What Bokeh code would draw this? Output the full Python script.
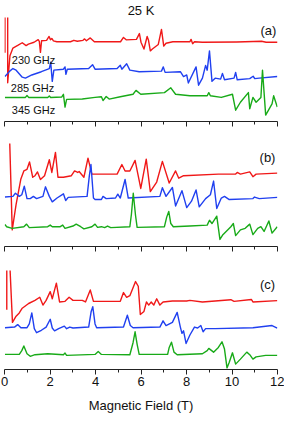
from bokeh.plotting import figure
from bokeh.layouts import column
from bokeh.models import Range1d, FixedTicker, Label
from bokeh.embed import file_html
from bokeh.resources import INLINE

# ---------------- data ----------------
field_ticks = [0, 2, 4, 6, 8, 10, 12]
minor_field_ticks = [1, 3, 5, 7, 9, 11]
freq_labels = ["230 GHz", "285 GHz", "345 GHz"]
panel_names = ["(a)", "(b)", "(c)"]
title_text = "25 K"
x_label = "Magnetic Field (T)"

# panel (a)
a_red_B = [0.02, 0.02, 0.14, 0.14, 0.24, 0.37, 0.6, 0.78, 0.95, 1.05, 1.3, 1.48, 1.53, 1.58, 1.63, 1.85, 1.96, 2.02, 2.08, 2.15, 2.3, 2.9, 3.05, 3.2, 3.45, 3.52, 3.6, 3.77, 3.95, 5.1, 5.23, 5.35, 5.8, 5.93, 6.0, 6.13, 6.27, 6.33, 6.41, 6.5, 6.76, 6.9, 7.0, 7.1, 7.4, 8.15, 8.2, 8.27, 8.35, 8.7, 10.2, 11.3, 11.5, 12.0]
a_red_S = [-11, 40, 40, -42, -14, -6, -3, -0.5, -3.5, -2, 0, 2.7, 1, -10.5, 1.5, 2, 6, 2.5, 4, 1.5, 0.5, 0.5, 2, 1, 2, 3.5, 1.5, 4.5, 0.5, 0.5, 5, 2.5, 3, 9, 0, -7, 6, 2, -9, -7, -2.3, 13.3, -4, -1, 0.5, 0.5, 3, -1.5, 0.5, 0, 0.3, 1, 0, 0]
a_blue_B = [0.02, 0.23, 0.37, 0.51, 0.78, 0.92, 1.2, 1.62, 1.97, 2.03, 2.1, 2.17, 2.59, 2.66, 2.7, 2.76, 3.7, 3.87, 3.98, 4.95, 5.09, 5.16, 5.37, 5.51, 5.92, 6.9, 6.98, 7.06, 7.73, 7.87, 8.01, 8.08, 8.42, 8.53, 8.7, 8.84, 8.91, 9.01, 9.12, 9.26, 9.5, 9.58, 9.67, 10.09, 10.16, 10.23, 10.78, 10.93, 11.0, 11.2, 11.99]
a_blue_S = [-6.3, -0.7, 2, 0.3, -7, -8, -4.7, -1.3, 2, 8.7, -11.3, 0.3, 1.3, 3.7, -4, 1.3, 2, 6, 1.3, 2, 5.3, 1.3, 7, 0.3, -1.3, -0.7, 3.7, -2, -1.3, -6.3, -4.7, -13, 3.7, -15.3, -8, 5.3, 0.3, 20.3, -11.3, -8, -9, -3, -9.7, -8, -2, -9.7, -8.5, -6, -8.5, -8, -6.3]
a_green_B = [0.02, 0.92, 0.99, 1.06, 1.9, 1.97, 2.03, 2.52, 2.59, 2.66, 2.73, 3.42, 3.98, 4.26, 4.33, 4.47, 4.6, 5.09, 5.65, 5.78, 5.99, 7.03, 7.31, 7.52, 8.15, 8.91, 8.98, 9.05, 9.53, 10.02, 10.16, 10.37, 10.72, 10.78, 10.92, 11.06, 11.27, 11.34, 11.48, 11.76, 11.83, 11.99]
a_green_S = [0, 0, 2, 0, 0, 1.5, 0, 0.5, 3.3, -10, -2, -1.7, 0, 0.7, -3.3, 1, -1.7, 0.7, 3.3, 7.3, 3.3, 5, 10, 3.3, 1.7, 1.7, 5, 1.7, 0, 3.3, -13.3, -5, 5, -11.7, 0, -5, 0, 28.3, -18.3, -6.7, 1.7, -10]

# panel (b)
b_red_B = [0.23, 0.34, 0.51, 0.72, 0.85, 0.99, 1.1, 1.24, 1.34, 1.45, 1.58, 1.76, 1.97, 2.08, 2.24, 2.35, 2.59, 2.94, 3.08, 3.22, 3.28, 3.49, 3.67, 3.84, 4.95, 5.16, 5.3, 5.51, 5.74, 5.99, 6.23, 6.41, 6.69, 6.94, 7.24, 7.52, 7.66, 7.87, 9.4, 10.16, 10.23, 10.37, 10.78, 10.92, 11.06, 11.99]
b_red_S = [32, -59.3, -32.7, -6, 2.3, 4, 11.7, -4.3, -2.7, 1.3, -6.7, -2.7, 14, 0.7, 21.7, -4.3, -4.3, -2.7, 2.3, 0.7, 1.7, -4.3, 15.7, -1, -1, 9, 2.3, 2.3, 13.3, -16, 14.7, -19.3, -9.3, 12.3, -10.3, 2.3, -5.3, -2.7, -1, -1, 0.7, -1, 1.3, -3.7, -1, 0]
b_blue_B = [0.02, 0.37, 0.48, 0.65, 0.76, 0.87, 0.99, 1.13, 1.27, 1.41, 1.69, 1.8, 1.97, 2.1, 2.31, 2.59, 2.69, 2.8, 3.63, 3.73, 3.8, 3.91, 3.98, 4.26, 4.33, 4.47, 4.88, 4.98, 5.09, 5.3, 5.44, 6.83, 6.94, 7.1, 7.38, 7.52, 7.8, 8.01, 8.22, 8.42, 8.56, 8.84, 9.05, 9.19, 9.33, 9.53, 9.67, 9.88, 10.92, 10.99, 11.2, 11.99]
b_blue_S = [0.3, 1, 4.3, 1, 2.7, 11.7, -1.3, -1.3, 1, -1.3, 1, 11, 1, -4.7, -0.7, 3.7, -3.3, 0, 1, 22.7, 34.3, -0.7, -2.3, -2.3, 1, -1.3, -0.7, 3.3, -0.7, 18.7, -0.7, 1, 10, 1, 10.3, -9, 7, -10.7, -4, 7.7, -10, -1.3, 2.7, 17, -11.7, -0.7, 1, -2.3, -1.3, 0.3, -1.3, 0]
b_green_B = [0.02, 0.09, 0.34, 0.85, 0.97, 1.09, 1.9, 2.01, 2.1, 2.45, 2.56, 2.66, 3.01, 3.15, 3.35, 3.49, 3.84, 3.98, 4.09, 4.26, 4.4, 4.53, 4.67, 5.51, 5.58, 5.66, 5.76, 5.83, 7.03, 7.13, 7.22, 7.31, 7.42, 8.15, 8.91, 9.01, 9.12, 9.33, 9.47, 9.6, 9.95, 10.06, 10.16, 10.37, 10.58, 10.78, 10.92, 11.13, 11.27, 11.41, 11.62, 11.76, 11.99]
b_green_S = [2.3, 0, -1.7, 0, 2.7, -1, 0, 1.7, 0, 0, 1.7, -1.7, 0.7, 2.7, 0, -2.3, 0, 2.7, -0.7, 0, -1, 0.7, -1, 0, 13.3, 35, 11.7, -0.7, 0, 10, 16, 3.3, 0, 0.7, 1.7, 6.7, 3.3, 11, -13.3, -8.3, 0, 3.3, -9.3, -3.3, -1.7, 2.7, -8.3, -1.7, 0, -5, 6, -6.7, 0]

# panel (c)
c_red_B = [0.1, 0.1, 0.24, 0.35, 0.51, 0.65, 0.78, 1.06, 1.34, 1.55, 1.69, 1.83, 2.01, 2.1, 2.28, 2.42, 2.66, 2.84, 3.01, 3.42, 3.56, 3.77, 3.91, 5.09, 5.23, 5.37, 5.51, 5.76, 5.88, 5.97, 6.13, 6.24, 6.34, 6.45, 6.56, 6.69, 6.83, 6.97, 7.38, 8.01, 8.15, 8.7, 9.95, 10.09, 10.85, 10.92, 11.99]
c_red_S = [-9, 36, 36, -22.3, -15.7, -12.3, -7.3, -2.3, 1, 4.3, -4, 1, 10.3, 2.7, 19.3, -0.7, 0, 4.3, 1, 1, -0.7, 12, 0, 0, 9.3, 4.3, 6, 21, 16, -14, -10.7, -0.7, -4, -0.7, -4, 2.7, -4, -0.7, 0.3, 0.3, 1, -0.7, 1.7, 0, 2, -0.7, 0.7]
c_blue_B = [0.02, 0.44, 0.58, 0.72, 0.99, 1.09, 1.2, 1.31, 1.41, 1.62, 1.83, 2.01, 2.1, 2.2, 2.38, 2.63, 2.73, 2.87, 3.01, 3.7, 3.81, 3.88, 3.98, 4.05, 5.23, 5.4, 5.53, 5.65, 6.83, 6.97, 7.1, 7.38, 7.59, 7.73, 7.8, 7.87, 7.98, 8.15, 8.35, 8.49, 8.63, 8.73, 8.84, 9.26, 10.92, 11.76, 11.99]
c_blue_S = [0, 0.7, 3.3, 0, 0, 4, 15.7, -1, -5.3, -2.7, 0.7, 9, -0.3, -3.3, -1, 1.7, -1, 0.7, -0.3, 0.7, 17.3, 22.3, 4, 0, 0.7, 13.3, 2.3, 0, 0.7, 7.3, 2.3, 5.7, 16.3, 0.7, -6, -3.3, -16.7, -7.7, 0.7, -0.3, 2.3, -4.3, -1, -1, 0, 2.3, -0.3]
c_green_B = [0.02, 0.65, 0.76, 0.85, 0.99, 1.13, 1.34, 1.9, 2.59, 2.66, 2.73, 3.98, 4.12, 4.26, 5.51, 5.65, 5.74, 5.83, 5.92, 7.17, 7.24, 7.34, 7.45, 7.59, 8.7, 8.91, 8.98, 9.19, 9.4, 9.56, 9.67, 9.78, 9.88, 10.02, 10.16, 10.37, 10.65, 10.78, 10.92, 11.06, 11.48, 11.99]
c_green_S = [0.3, 0.3, 4.3, 9.3, 1, -1.7, 0, 1, 0, 1.7, -0.7, 0.3, 3.3, 0.3, 0, 12.7, 24.3, 11, 0.3, 0.3, 7.7, 13.3, 2.7, 0, 1, 4.3, 6.7, 2.7, 7.7, 13.7, 6, -14, -8, 2, -10, -4.7, 2.7, 0, -4.7, -2.3, -0.7, -0.7]

# ---------------- styling ----------------
RED = "#f01818"
BLUE = "#2040f0"
GREEN = "#18aa18"
FONT = "Liberation Sans"
W = 284

panels = [
    # (traces, baselines(ref px), y-range(ref px), height, border top, border bottom)
    (((a_red_B, a_red_S), (a_blue_B, a_blue_S), (a_green_B, a_green_S)), (42.7, 72.0, 100.0), (17.0, 125.0), 131, 16, 10),
    (((b_red_B, b_red_S), (b_blue_B, b_blue_S), (b_green_B, b_green_S)), (179.0, 204.3, 235.0), (148.0, 255.7), 125, 12, 10),
    (((c_red_B, c_red_S), (c_blue_B, c_blue_S), (c_green_B, c_green_S)), (312.7, 340.7, 369.3), (280.0, 385.0), 159, 14, 43),
]
colors = [RED, BLUE, GREEN]
panel_label_pos = [(11.6, 30.0), (11.56, 163.0), (11.56, 295.0)]
freq_label_pos = [(0.32, 61.0), (0.28, 90.0), (0.32, 113.0)]

figs = []
for i, (traces, bases, (ytop, ybot), h, bt, bb) in enumerate(panels):
    last = (i == 2)
    p = figure(width=W, height=h, x_range=Range1d(0, 12), y_range=Range1d(-ybot, -ytop),
               output_backend="svg", toolbar_location=None, y_axis_location=None,
               min_border_left=4, min_border_right=7, min_border_top=bt, min_border_bottom=bb)
    p.outline_line_color = None
    p.grid.visible = False
    p.background_fill_color = "white"
    p.border_fill_color = "white"
    ax = p.xaxis[0]
    ax.ticker = FixedTicker(ticks=field_ticks, minor_ticks=minor_field_ticks)
    ax.axis_line_color = "#222222"
    ax.major_tick_line_color = "#222222"
    ax.minor_tick_line_color = "#222222"
    ax.major_tick_in = 0
    ax.major_tick_out = 5
    ax.minor_tick_in = 0
    ax.minor_tick_out = 3
    ax.major_label_text_font = FONT
    if last:
        ax.major_label_text_font_size = "13px"
        ax.major_label_text_color = "#111111"
        ax.major_label_standoff = 2
        ax.axis_label = x_label
        ax.axis_label_text_font = FONT
        ax.axis_label_text_font_size = "13px"
        ax.axis_label_text_font_style = "normal"
        ax.axis_label_text_color = "#111111"
        ax.axis_label_standoff = 9
    else:
        # ticks only, no tick labels on the upper panels
        ax.major_label_text_font_size = "1px"
        ax.major_label_text_color = None
        ax.major_label_standoff = 0
    for (B, S), base, col in zip(traces, bases, colors):
        y = [-base + s for s in S]
        p.line(B, y, line_color=col, line_width=1.4, line_join="round")
    lx, ly = panel_label_pos[i]
    p.add_layout(Label(x=lx, y=-ly, text=panel_names[i], text_font=FONT, text_font_size="13px",
                       text_align="center", text_baseline="middle", text_color="#111111"))
    if i == 0:
        p.title.text = title_text
        p.title.align = "center"
        p.title.text_font = FONT
        p.title.text_font_size = "13px"
        p.title.text_font_style = "normal"
        p.title.text_color = "#111111"
        p.title.standoff = 0
        for (fx, fy), t in zip(freq_label_pos, freq_labels):
            p.add_layout(Label(x=fx, y=-fy, text=t, text_font=FONT, text_font_size="11px",
                               text_align="left", text_baseline="middle", text_color="#111111"))
    figs.append(p)

layout = column(*figs, spacing=0)
open("out.html", "w").write(file_html(layout, INLINE))
